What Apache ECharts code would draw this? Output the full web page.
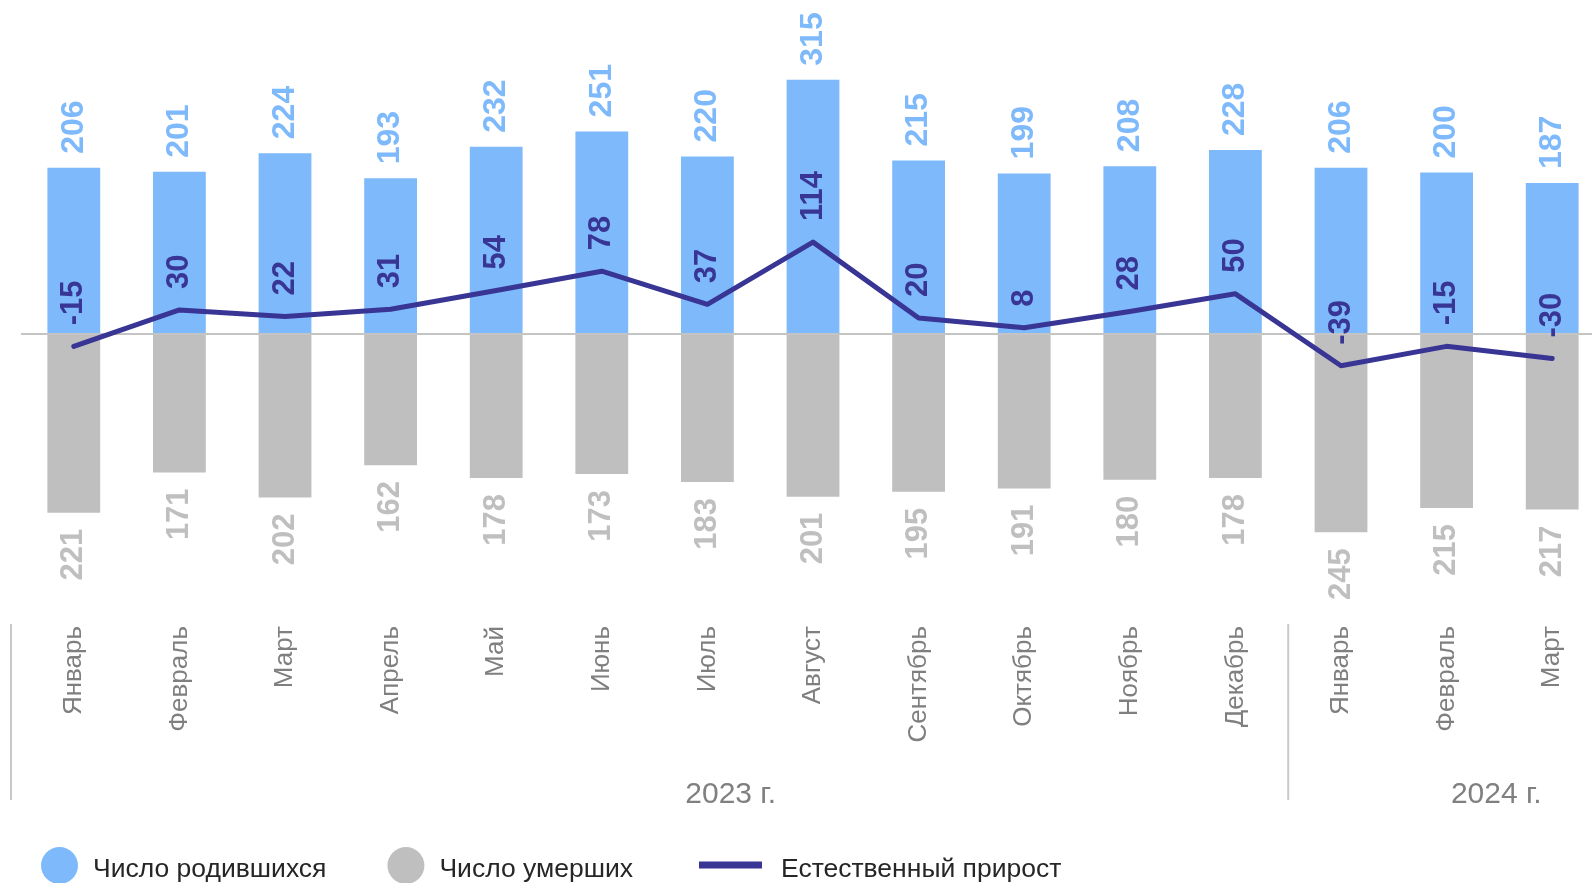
<!DOCTYPE html>
<html>
<head>
<meta charset="utf-8">
<script src="https://cdn.jsdelivr.net/npm/echarts@6/dist/echarts.min.js"></script>
<style>
    html, body { margin: 0; padding: 0; background: #fff; }
    #main { width: 1592px; height: 883px; }
</style>
</head>
<body>
<div id="main"></div>
<script>
var months = ['Январь', 'Февраль', 'Март', 'Апрель', 'Май', 'Июнь', 'Июль', 'Август',
              'Сентябрь', 'Октябрь', 'Ноябрь', 'Декабрь', 'Январь', 'Февраль', 'Март'];
var births = [206, 201, 224, 193, 232, 251, 220, 315, 215, 199, 208, 228, 206, 200, 187];
var deaths = [221, 171, 202, 162, 178, 173, 183, 201, 195, 191, 180, 178, 245, 215, 217];
var growth = [-15, 30, 22, 31, 54, 78, 37, 114, 20, 8, 28, 50, -39, -15, -30];
var yearNames = ['2023 г.', '2024 г.'];
var yearFirstIndex = [0, 12];

var FONT = "'Liberation Sans', Arial, sans-serif";
var BLUE = '#7eb9fb', GREY = '#bfbfbf', NAVY = '#383594';

var chart = echarts.init(document.getElementById('main'));

// legend text sits a little lower than the icon centre in the original
function legendText(padTop, padLeft) {
    return {
        formatter: '{t|{name}}',
        textStyle: {
            fontSize: 26.5, color: '#262626', fontFamily: FONT,
            rich: { t: { fontSize: 26.5, color: '#262626', fontFamily: FONT, padding: [padTop, 0, 0, padLeft] } }
        }
    };
}

var legend1 = legendText(8, 10);
var legend2 = legendText(10, 14);

option = {
    animation: false,
    textStyle: { fontFamily: FONT },
    // the plot runs a little past the right edge, as in the original
    grid: { left: 21, top: 11, width: 1584, height: 602, outerBoundsMode: 'none', containLabel: false },
    xAxis: {
        type: 'category',
        data: months,
        axisLine: { show: false },
        axisTick: { show: false },
        axisLabel: { interval: 0, rotate: 90, margin: 13, fontSize: 26, color: '#7f7f7f', fontFamily: FONT }
    },
    yAxis: { type: 'value', min: -345, max: 400, show: false },
    legend: [{
        data: ['Число родившихся', 'Число умерших'],
        left: 41, top: 847, padding: 0,
        icon: 'circle', itemWidth: 37, itemHeight: 37, itemGap: 61,
        formatter: legend1.formatter,
        textStyle: legend1.textStyle
    }, {
        data: ['Естественный прирост'],
        left: 699, top: 856.5, padding: 0,
        icon: 'rect', itemWidth: 63, itemHeight: 7,
        formatter: legend2.formatter,
        textStyle: legend2.textStyle
    }],
    series: [{
        name: 'Число родившихся',
        type: 'bar',
        stack: 'total',
        barWidth: '50%',
        data: births,
        itemStyle: { color: BLUE },
        label: {
            show: true, position: 'top', rotate: 90, align: 'left', verticalAlign: 'middle',
            distance: 14, color: BLUE, fontSize: 32, fontWeight: 'bold', fontFamily: FONT
        },
        markLine: {
            silent: true, symbol: 'none', label: { show: false },
            lineStyle: { color: '#c4c4c4', width: 2, type: 'solid' },
            data: [{ yAxis: 0 }]
        }
    }, {
        name: 'Число умерших',
        type: 'bar',
        stack: 'total',
        barWidth: '50%',
        data: deaths.map(function (v) { return -v; }),
        itemStyle: { color: GREY },
        label: {
            show: true, position: 'bottom', rotate: 90, align: 'right', verticalAlign: 'middle',
            distance: 16, color: GREY, fontSize: 31, fontWeight: 'bold', fontFamily: FONT,
            formatter: function (p) { return Math.abs(p.value); }
        }
    }, {
        name: 'Естественный прирост',
        type: 'line',
        data: growth,
        z: 5,
        symbol: 'circle',
        symbolSize: 2,
        color: NAVY,
        itemStyle: { color: NAVY },
        lineStyle: { color: NAVY, width: 5, cap: 'round', join: 'round' },
        label: {
            show: true, position: 'top', rotate: 90, align: 'left', verticalAlign: 'middle',
            distance: 20, color: NAVY, fontSize: 31, fontWeight: 'bold', fontFamily: FONT
        }
    }]
};

chart.setOption(option);

// group separators and year captions under the month labels
var p0 = chart.convertToPixel({ xAxisIndex: 0 }, 0);
var band = chart.convertToPixel({ xAxisIndex: 0 }, 1) - p0;
var labelShift = [6.22, 13.47];
var graphics = [];
yearFirstIndex.forEach(function (idx, i) {
    var x = p0 + (idx - 0.5) * band - (idx === 0 ? 10 : 0);
    graphics.push({
        type: 'line',
        shape: { x1: x, y1: 624, x2: x, y2: 800 },
        style: { stroke: '#c8c8c8', lineWidth: 2 }
    });
    graphics.push({
        type: 'text',
        x: p0 + labelShift[i] * band,
        y: 795,
        style: {
            text: yearNames[i], fill: '#808080', font: '30px ' + FONT,
            textAlign: 'center', textVerticalAlign: 'middle'
        }
    });
});
chart.setOption({ graphic: graphics });
</script>
</body>
</html>
